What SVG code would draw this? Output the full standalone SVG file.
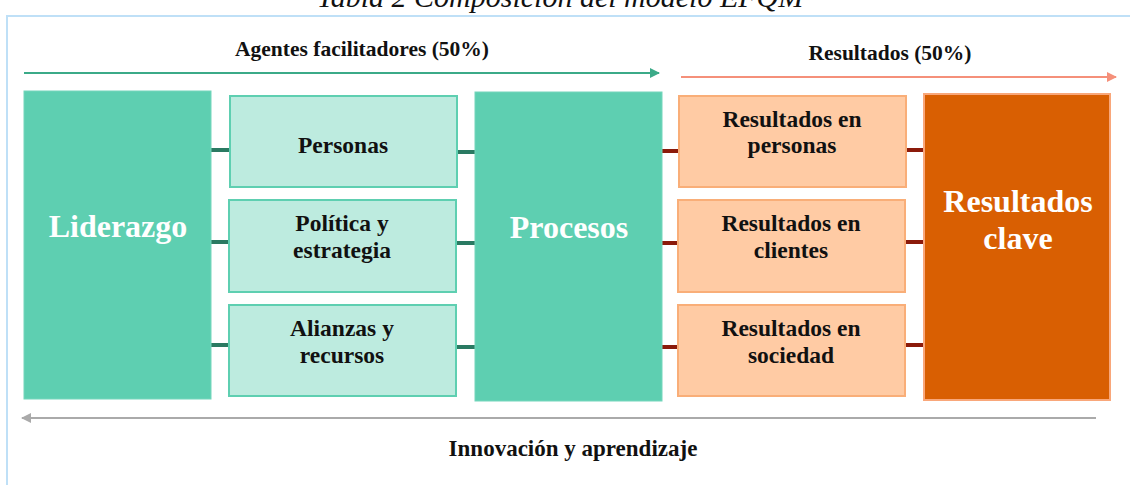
<svg xmlns="http://www.w3.org/2000/svg" width="1130" height="485" viewBox="0 0 1130 485">
<style>
text{font-family:"Liberation Serif","Times New Roman",serif;font-weight:bold;text-anchor:middle}
.big{fill:#fff;font-size:32px}
.lbl{fill:#111;font-size:23.5px}
.hdr{fill:#111;font-size:21.5px}
.dark{fill:#5ECFB1;stroke:#74D6BC;stroke-width:1}
.light{fill:#BDEBDF;stroke:#5ECFB1;stroke-width:2}
.peach{fill:#FFCBA4;stroke:#F9AE78;stroke-width:2}
.g{stroke:#2A7A62;stroke-width:4}
.r{stroke:#8B1A0A;stroke-width:4}
</style>
<defs>
<marker id="ag" markerWidth="10" markerHeight="10" refX="9" refY="5" orient="auto" markerUnits="userSpaceOnUse"><path d="M0,0 L10,5 L0,10 z" fill="#3BAA88"/></marker>
<marker id="ar" markerWidth="10" markerHeight="10" refX="9" refY="5" orient="auto" markerUnits="userSpaceOnUse"><path d="M0,0 L10,5 L0,10 z" fill="#F5907A"/></marker>
<marker id="ay" markerWidth="10" markerHeight="10" refX="9" refY="5" orient="auto" markerUnits="userSpaceOnUse"><path d="M0,0 L10,5 L0,10 z" fill="#AAAAAA"/></marker>
</defs>
<rect width="1130" height="485" fill="#fff"/>
<text x="560" y="7" style="font-weight:normal;font-style:italic;font-size:30px;fill:#111">Tabla 2 Composición del modelo EFQM</text>
<path d="M7,485 V16 H1130" fill="none" stroke="#BFE0F7" stroke-width="2"/>
<g id="headers">
<text class="hdr" x="362" y="56">Agentes facilitadores (50%)</text>
<text class="hdr" x="890" y="60">Resultados (50%)</text>
<text class="hdr" x="573" y="456" style="font-size:23px">Innovación  y aprendizaje</text>
</g>
<g id="connectors">
<line x1="24" y1="73" x2="659" y2="73" stroke="#3BAA88" stroke-width="2" marker-end="url(#ag)"/>
<line x1="681" y1="77" x2="1116" y2="77" stroke="#F5907A" stroke-width="2" marker-end="url(#ar)"/>
<line x1="1096" y1="418" x2="22" y2="418" stroke="#AAAAAA" stroke-width="2" marker-end="url(#ay)"/>
<line class="g" x1="211" y1="150" x2="230" y2="150"/>
<line class="g" x1="211" y1="242" x2="229" y2="242"/>
<line class="g" x1="211" y1="345" x2="229" y2="345"/>
<line class="g" x1="457" y1="152" x2="475" y2="152"/>
<line class="g" x1="456" y1="243" x2="475" y2="243"/>
<line class="g" x1="456" y1="347" x2="475" y2="347"/>
<line class="r" x1="662" y1="151" x2="679" y2="151"/>
<line class="r" x1="662" y1="243" x2="678" y2="243"/>
<line class="r" x1="662" y1="347" x2="678" y2="347"/>
<line class="r" x1="906" y1="150" x2="924" y2="150"/>
<line class="r" x1="905" y1="242" x2="924" y2="242"/>
<line class="r" x1="905" y1="345" x2="924" y2="345"/>
</g>
<g id="liderazgo"><rect class="dark" x="24" y="91" width="187" height="308"/><text class="big" x="118" y="237">Liderazgo</text></g>
<g id="personas"><rect class="light" x="230" y="96" width="227" height="91"/><text class="lbl" x="343" y="153">Personas</text></g>
<g id="politica"><rect class="light" x="229" y="200" width="227" height="92"/><text class="lbl" x="342" y="231">Política y</text><text class="lbl" x="342" y="258">estrategia</text></g>
<g id="alianzas"><rect class="light" x="229" y="305" width="227" height="91"/><text class="lbl" x="342" y="336">Alianzas y</text><text class="lbl" x="342" y="363">recursos</text></g>
<g id="procesos"><rect class="dark" x="475" y="92" width="187" height="309"/><text class="big" x="569" y="238">Procesos</text></g>
<g id="res-personas"><rect class="peach" x="679" y="96" width="227" height="91"/><text class="lbl" x="792" y="127">Resultados en</text><text class="lbl" x="792" y="153">personas</text></g>
<g id="res-clientes"><rect class="peach" x="678" y="200" width="227" height="92"/><text class="lbl" x="791" y="231">Resultados en</text><text class="lbl" x="791" y="258">clientes</text></g>
<g id="res-sociedad"><rect class="peach" x="678" y="305" width="227" height="91"/><text class="lbl" x="791" y="336">Resultados en</text><text class="lbl" x="791" y="363">sociedad</text></g>
<g id="res-clave"><rect x="924" y="94" width="186" height="306" fill="#D95F02" stroke="#F9A77A" stroke-width="2"/><text class="big" x="1018" y="212">Resultados</text><text class="big" x="1018" y="249">clave</text></g>
</svg>
